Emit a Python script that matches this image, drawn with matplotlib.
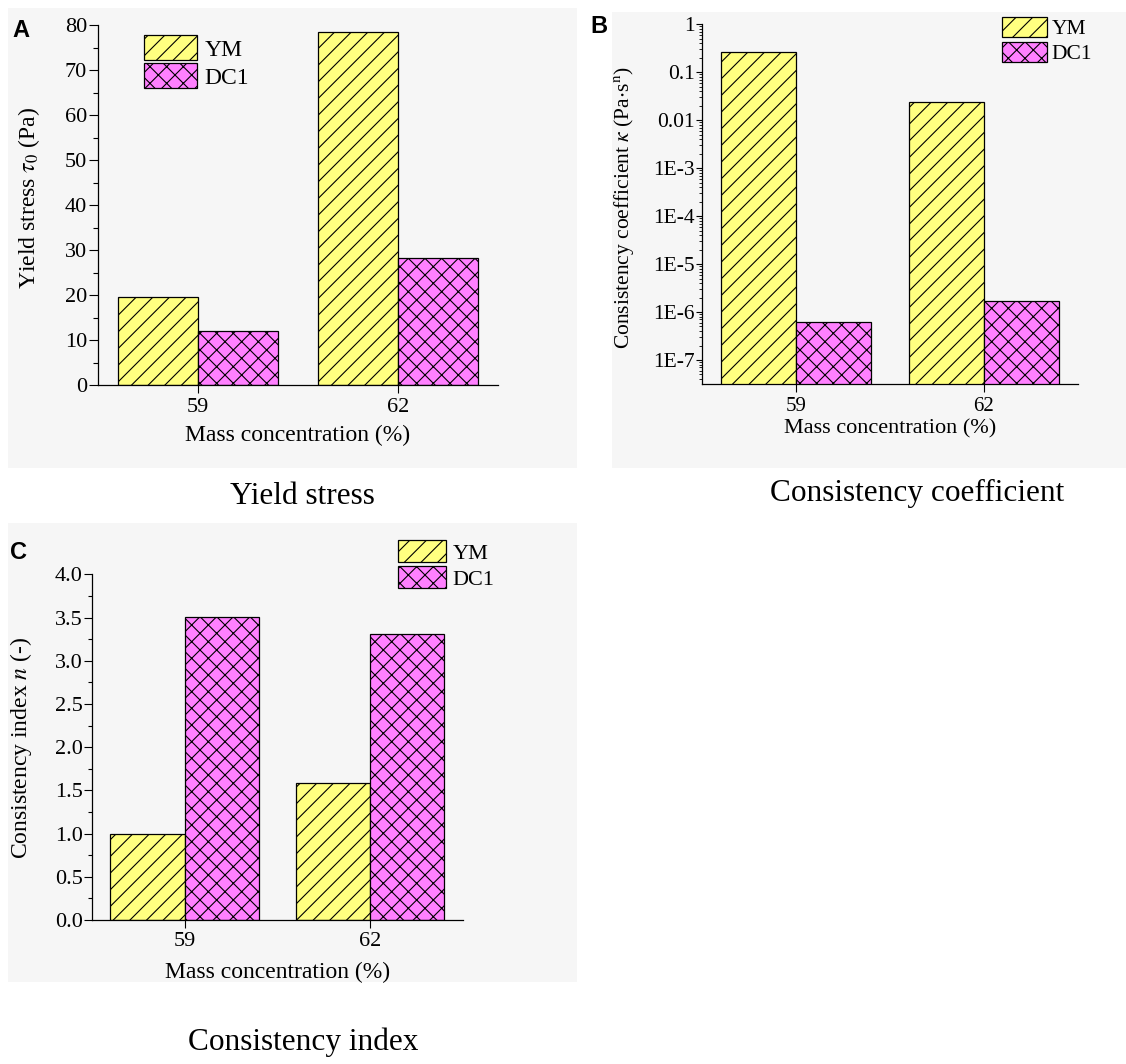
import matplotlib.pyplot as plt
import numpy as np
from matplotlib.patches import Rectangle
from matplotlib.ticker import MultipleLocator, LogLocator, NullLocator

plt.rcParams['font.family'] = 'Liberation Serif'
plt.rcParams['mathtext.fontset'] = 'stix'
plt.rcParams['hatch.linewidth'] = 0.8

# Data
concentrations = ['59', '62']
series = ['YM', 'DC1']
yield_ym = [19.6, 78.5]
yield_dc1 = [12.0, 28.3]
kappa_ym = [0.27, 0.024]
kappa_dc1 = [6.3e-7, 1.7e-6]
index_ym = [1.0, 1.58]
index_dc1 = [3.51, 3.31]

colors = ['#ffff80', '#ff80ff']
hatches = ['//', 'xx']

W, H = 1126, 1064
fig = plt.figure(figsize=(W / 100, H / 100), dpi=100)


def px_rect(x0, y0, x1, y1):
    # pixel box (top-left origin) -> figure fraction [left, bottom, width, height]
    return [x0 / W, 1 - y1 / H, (x1 - x0) / W, (y1 - y0) / H]


# light panel backgrounds
for box in [(8, 8, 577, 468), (612, 12, 1126, 468), (8, 523, 577, 982)]:
    l, b, w, h = px_rect(*box)
    fig.patches.append(Rectangle((l, b), w, h, transform=fig.transFigure,
                                 facecolor='#f6f6f6', edgecolor='none', zorder=-10))


def draw_bars(ax, ym, dc1, fs):
    x = np.arange(len(concentrations))
    for vals, off, c, h, name in [(ym, -0.2, colors[0], hatches[0], series[0]),
                                  (dc1, 0.2, colors[1], hatches[1], series[1])]:
        ax.bar(x + off, vals, 0.4, color=c, hatch=h, edgecolor='black',
               linewidth=0.9, label=name, zorder=2)
    ax.set_xticks(x)
    ax.set_xticklabels(concentrations)
    ax.set_xlim(-0.5, 1.5)
    ax.set_facecolor('none')
    for s in ['top', 'right']:
        ax.spines[s].set_visible(False)
    for s in ['left', 'bottom']:
        ax.spines[s].set_linewidth(0.9)
    ax.xaxis.set_minor_locator(NullLocator())
    ax.tick_params(axis='x', direction='out', length=6, width=0.8, labelsize=fs, pad=3)
    ax.set_xlabel('Mass concentration (%)', fontsize=fs + 1)


# ---- Panel A: yield stress
axA = fig.add_axes(px_rect(98, 25, 498, 385))
draw_bars(axA, yield_ym, yield_dc1, 16)
axA.set_ylim(0, 80)
axA.set_yticks(np.arange(0, 81, 10))
axA.yaxis.set_minor_locator(MultipleLocator(5))
axA.tick_params(axis='y', which='major', direction='out', length=6.5, width=0.8, labelsize=16, pad=1.5)
axA.tick_params(axis='y', which='minor', direction='out', length=3.5, width=0.8)
axA.set_ylabel(r'Yield stress $\tau_0$ (Pa)', fontsize=17)
axA.yaxis.set_label_coords(-0.14, 0.52)
axA.xaxis.set_label_coords(0.5, -0.112)
axA.legend(loc='upper left', bbox_to_anchor=(0.115, 0.972), frameon=False, fontsize=17,
           handlelength=2.25, handleheight=1.25, labelspacing=0.12, handletextpad=0.3,
           borderpad=0, borderaxespad=0)

# ---- Panel B: consistency coefficient (log)
axB = fig.add_axes(px_rect(701.7, 24.3, 1078, 384.3))
axB.set_yscale('log')
draw_bars(axB, kappa_ym, kappa_dc1, 15)
axB.set_ylim(10 ** -7.507, 1)
decades = [1e-7, 1e-6, 1e-5, 1e-4, 1e-3, 1e-2, 1e-1, 1]
axB.set_yticks(decades)
axB.set_yticklabels(['1E-7', '1E-6', '1E-5', '1E-4', '1E-3', '0.01', '0.1', '1'])
axB.yaxis.set_minor_locator(LogLocator(base=10, subs=np.arange(2, 10), numticks=20))
axB.yaxis.set_minor_formatter(plt.NullFormatter())
axB.tick_params(axis='y', which='major', direction='out', length=4.5, width=0.8, labelsize=15.5, pad=0.5)
axB.tick_params(axis='y', which='minor', direction='out', length=2.5, width=0.6)
axB.set_ylabel(r'Consistency coefficient $\kappa$ (Pa$\cdot$s$^{\mathrm{n}}$)', fontsize=15.5)
axB.yaxis.set_label_coords(-0.175, 0.491)
axB.xaxis.set_label_coords(0.5, -0.098)
axB.legend(loc='upper left', bbox_to_anchor=(0.798, 1.02), frameon=False, fontsize=15.5,
           handlelength=2.1, handleheight=1.05, labelspacing=0.12, handletextpad=0.2,
           borderpad=0, borderaxespad=0)

# ---- Panel C: consistency index
axC = fig.add_axes(px_rect(91.7, 574.3, 463, 920))
draw_bars(axC, index_ym, index_dc1, 16)
axC.set_ylim(0, 4)
axC.set_yticks(np.arange(0, 4.01, 0.5))
axC.set_yticklabels([f'{v:.1f}' for v in np.arange(0, 4.01, 0.5)])
axC.yaxis.set_minor_locator(MultipleLocator(0.25))
axC.tick_params(axis='y', which='major', direction='out', length=5.5, width=0.8, labelsize=16, pad=0.8)
axC.tick_params(axis='y', which='minor', direction='out', length=3, width=0.8)
axC.set_ylabel(r'Consistency index $n$ (-)', fontsize=17)
axC.yaxis.set_label_coords(-0.155, 0.499)
axC.xaxis.set_label_coords(0.5, -0.12)
axC.legend(loc='upper left', bbox_to_anchor=(0.825, 1.099), frameon=False, fontsize=16,
           handlelength=2.15, handleheight=1.15, labelspacing=0.12, handletextpad=0.3,
           borderpad=0, borderaxespad=0)

# panel letters
for x, y, s in [(12, 37, 'A'), (590, 33, 'B'), (10, 559, 'C')]:
    fig.text(x / W, 1 - y / H, s, fontfamily='Liberation Sans', fontweight='bold',
             fontsize=17, va='baseline', ha='left')

# captions
for x, y, s in [(302, 496, 'Yield stress'), (917, 493, 'Consistency coefficient'),
                (303, 1042, 'Consistency index')]:
    fig.text(x / W, 1 - y / H, s, fontsize=22.5, ha='center', va='center')

fig.savefig('out.png', dpi=100, facecolor='white')
